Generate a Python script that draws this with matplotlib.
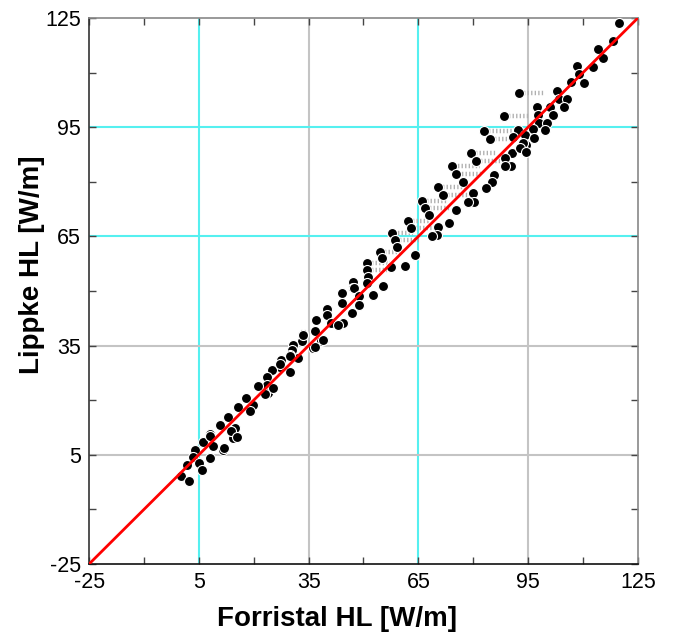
import numpy as np
import matplotlib.pyplot as plt

plt.rcParams['font.family'] = ['Liberation Sans', 'DejaVu Sans']
plt.rcParams['axes.unicode_minus'] = False

# ── scatter data (Forristal HL, Lippke HL) ──
forristal = np.array([
    119.9, 118.1, 114.2, 115.5, 112.8, 108.4, 108.8, 110.2, 106.7, 102.9,
    103.5, 105.5, 104.9, 101.1, 101.8, 97.4, 97.7, 98.0, 100.2, 99.6,
    96.2, 92.4, 88.5, 82.9, 84.6, 92.3, 90.9, 94.4, 90.7, 88.6,
    90.2, 88.6, 79.3, 80.7, 85.7, 85.0, 83.6, 74.3, 75.4, 77.1,
    80.0, 80.2, 78.6, 70.4, 71.8, 65.9, 66.8, 68.0, 75.4, 73.4,
    70.4, 70.2, 68.6, 62.2, 62.9, 57.9, 58.6, 59.2, 64.1, 61.3,
    54.5, 55.0, 57.4, 50.9, 50.9, 51.3, 55.2, 52.7, 47.2, 47.2,
    48.6, 46.8, 44.0, 44.0, 94.1, 96.6, 93.6, 92.9, 94.4,
    51.0, 47.4, 48.7, 48.8, 44.3, 40.1, 40.1, 37.0, 36.7, 41.0,
    43.1, 38.3, 36.3, 33.5, 33.3, 30.8, 30.4, 29.9, 27.4, 27.2,
    32.2, 29.9, 24.9, 23.7, 23.7, 21.3, 24.0, 17.9, 19.9, 15.8,
    19.0, 13.0, 10.8, 8.1, 6.2, 4.0, 3.3, 1.7, 0.0, 2.4,
    5.1, 5.8, 8.1, 11.7, 14.4, 14.9, 9.0, 8.1, 13.7, 15.5,
    11.9, 25.3, 23.1, 38.8, 36.7, 30.0, 33.5, 27.1,
])
lippke = np.array([
    123.5, 118.8, 116.5, 113.9, 111.6, 111.9, 109.5, 107.2, 107.5, 105.0,
    102.7, 102.7, 100.5, 100.6, 98.4, 100.6, 98.4, 96.1, 96.2, 94.2,
    94.4, 104.3, 98.1, 94.0, 91.8, 94.2, 92.2, 90.1, 88.0, 86.5,
    84.2, 84.2, 87.8, 85.8, 81.9, 80.0, 78.2, 84.3, 82.1, 80.0,
    77.0, 74.5, 74.5, 78.5, 76.4, 74.8, 72.7, 70.9, 72.3, 68.8,
    67.7, 65.4, 65.1, 69.3, 67.2, 66.0, 64.0, 62.2, 59.9, 57.0,
    60.8, 59.0, 56.7, 57.6, 55.8, 53.9, 51.5, 48.9, 52.6, 50.8,
    48.4, 43.9, 49.4, 46.6, 92.9, 92.0, 90.6, 89.2, 88.3,
    52.1, 50.7, 48.6, 46.2, 41.3, 45.0, 43.4, 42.0, 39.1, 41.1,
    40.7, 36.3, 34.3, 38.2, 36.3, 35.2, 33.8, 32.4, 31.1, 29.2,
    31.5, 27.8, 28.3, 26.5, 24.2, 23.9, 21.9, 20.5, 18.7, 18.2,
    16.9, 15.3, 13.2, 10.7, 8.6, 6.3, 4.3, 2.2, -0.8, -2.3,
    2.8, 0.8, 4.0, 6.3, 9.5, 12.3, 7.4, 10.2, 11.4, 10.0,
    6.8, 23.3, 21.7, 36.4, 34.7, 32.1, 37.9, 30.0,
])

# ── dense horizontal runs of overlapping markers (y, x start, x end) ──
run_y  = [104.3, 98.1, 94.0, 91.8, 87.8, 85.8, 84.3, 82.1, 78.5, 76.4,
          74.8, 72.7, 69.3, 67.2, 66.0, 64.0, 60.8, 57.6, 55.8]
run_x0 = [93.8, 89.9, 84.3, 86.0, 80.7, 82.1, 75.7, 76.8, 71.8, 73.2,
          67.3, 68.2, 63.6, 64.3, 59.3, 60.0, 55.9, 52.3, 52.3]
run_x1 = [99.6, 95.5, 90.5, 91.8, 86.4, 88.1, 81.8, 82.6, 78.5, 79.1,
          72.7, 73.6, 68.2, 69.0, 63.5, 65.3, 60.0, 57.2, 56.5]

lims = [-25, 125]
ticks = [-25, 5, 35, 65, 95, 125]
minor = [-10, 20, 50, 80, 110]
vgrid = [5, 35, 65, 95]
vgrid_col = ['#55f0f0', '#c4c4c4', '#55f0f0', '#c4c4c4']
hgrid = [5, 35, 65, 95]
hgrid_col = ['#c4c4c4', '#c4c4c4', '#55f0f0', '#55f0f0']

fig = plt.figure(figsize=(6.75, 6.42), dpi=100)
ax = fig.add_axes([0.132, 0.1215, 0.813, 0.8505])

for v, c in zip(vgrid, vgrid_col):
    ax.axvline(v, color=c, lw=1.5, zorder=0)
for h, c in zip(hgrid, hgrid_col):
    ax.axhline(h, color=c, lw=1.5, zorder=0)

ax.hlines(run_y, run_x0, run_x1, colors='#b0b0b0', lw=3.2,
          linestyles=(0, (0.3, 0.5)), zorder=2)
ax.scatter(forristal, lippke, s=52, c='black', edgecolors='white',
           linewidths=0.8, zorder=3)
ax.plot(lims, lims, color='red', lw=2, zorder=4)

ax.set_xlim(lims)
ax.set_ylim(lims)
ax.set_xticks(ticks)
ax.set_yticks(ticks)
ax.set_xticks(minor, minor=True)
ax.set_yticks(minor, minor=True)
ax.tick_params(which='both', direction='in', top=True, right=True,
               length=5, width=1, color='#444444')
ax.tick_params(which='major', labelsize=15.5, pad=6)

ax.spines['left'].set_color('#333333')
ax.spines['bottom'].set_color('#111111')
ax.spines['top'].set_color('#888888')
ax.spines['right'].set_color('#888888')
for s in ax.spines.values():
    s.set_linewidth(1.2)

ax.set_xlabel('Forristal HL [W/m]', fontsize=20, fontweight='bold')
ax.set_ylabel('Lippke HL [W/m]', fontsize=20, fontweight='bold')
ax.xaxis.set_label_coords(0.451, -0.077)
ax.yaxis.set_label_coords(-0.080, 0.548)

plt.savefig('out.png', dpi=100)
